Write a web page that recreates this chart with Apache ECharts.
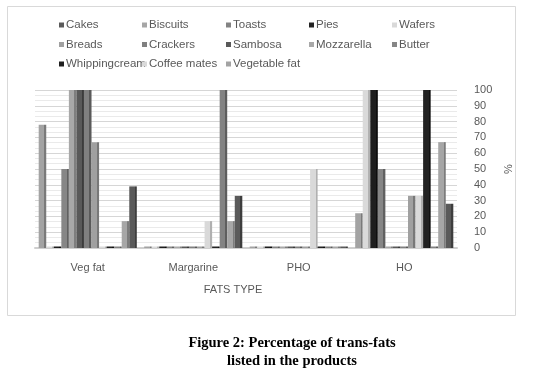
<!DOCTYPE html>
<html>
<head>
<meta charset="utf-8">
<script src="https://cdn.jsdelivr.net/npm/echarts@6/dist/echarts.min.js"></script>
<style>
  html, body { margin: 0; padding: 0; background: #ffffff; }
  #chart { width: 550px; height: 373px; }
</style>
</head>
<body>
<div id="chart"></div>
<script>
const categories = ['Veg fat', 'Margarine', 'PHO', 'HO'];
const yTicks = [0, 10, 20, 30, 40, 50, 60, 70, 80, 90, 100];

const cakes         = [39, 33, 0, 28];
const biscuits      = [17, 17, 0, 67];
const toasts        = [0, 100, 0, 0];
const pies          = [0, 0, 0, 100];
const wafers        = [0, 17, 50, 33];
const breads        = [67, 0, 0, 33];
const crackers      = [100, 0, 0, 0];
const sambosa       = [100, 0, 0, 0];
const mozzarella    = [100, 0, 0, 0];
const butter        = [50, 0, 0, 50];
const whippingcream = [0, 0, 0, 100];
const coffeeMates   = [0, 0, 0, 100];
const vegetableFat  = [78, 0, 0, 22];

const seriesNames = ['Cakes', 'Biscuits', 'Toasts', 'Pies', 'Wafers', 'Breads', 'Crackers',
  'Sambosa', 'Mozzarella', 'Butter', 'Whippingcream', 'Coffee mates', 'Vegetable fat'];
const seriesValues = [cakes, biscuits, toasts, pies, wafers, breads, crackers,
  sambosa, mozzarella, butter, whippingcream, coffeeMates, vegetableFat];

const colors = ['#5a5a5a', '#a6a6a6', '#838383', '#222222', '#d9d9d9', '#a0a0a0', '#808080',
  '#595959', '#a8a8a8', '#868686', '#1e1e1e', '#dadada', '#a3a3a3'];
const sideColors = ['#3e3e3e', '#7c7c7c', '#5e5e5e', '#111111', '#b0b0b0', '#787878', '#5a5a5a',
  '#3c3c3c', '#7e7e7e', '#616161', '#0e0e0e', '#b2b2b2', '#7a7a7a'];

function barColor(i) {
  return new echarts.graphic.LinearGradient(0, 0, 1, 0, [
    { offset: 0, color: colors[i] },
    { offset: 0.72, color: colors[i] },
    { offset: 0.72, color: sideColors[i] },
    { offset: 1, color: sideColors[i] }
  ]);
}

// Excel 3D chart draws the series in reverse order within each category
const series = [];
for (let i = seriesNames.length - 1; i >= 0; i--) {
  series.push({
    name: seriesNames[i],
    type: 'bar',
    data: seriesValues[i],
    barGap: '0%',
    barCategoryGap: '7%',
    barMinHeight: 1.5,
    itemStyle: { color: barColor(i) },
    emphasis: { disabled: true }
  });
}

const legendCols = [
  { left: 54, items: ['Cakes', 'Breads', 'Whippingcream'] },
  { left: 137, items: ['Biscuits', 'Crackers', 'Coffee mates'] },
  { left: 221, items: ['Toasts', 'Sambosa', 'Vegetable fat'] },
  { left: 304, items: ['Pies', 'Mozzarella'] },
  { left: 387, items: ['Wafers', 'Butter'] }
];
const legends = legendCols.map(c => ({
  orient: 'vertical',
  left: c.left,
  top: 13,
  itemWidth: 5,
  itemHeight: 5,
  itemGap: 5.5,
  icon: 'rect',
  selectedMode: false,
  data: c.items.map(n => ({ name: n, itemStyle: { color: colors[seriesNames.indexOf(n)] } })),
  textStyle: { fontFamily: 'Liberation Sans', fontSize: 11.5, color: '#595959', lineHeight: 14, padding: [0, 0, 0, -3] }
}));

const chart = echarts.init(document.getElementById('chart'), null, { renderer: 'canvas' });
chart.setOption({
  animation: false,
  backgroundColor: '#ffffff',
  legend: legends,
  grid: { left: 35, right: 93, top: 90, bottom: 125 },
  xAxis: {
    type: 'category',
    data: categories,
    name: 'FATS TYPE',
    nameLocation: 'middle',
    nameGap: 36,
    nameTextStyle: { fontFamily: 'Liberation Sans', fontSize: 11, color: '#595959', padding: [0, 26, 0, 0] },
    axisLine: { lineStyle: { color: '#cfcfcf', width: 2 } },
    axisTick: { show: false },
    axisLabel: { margin: 14, fontFamily: 'Liberation Sans', fontSize: 11, color: '#595959' }
  },
  yAxis: {
    type: 'value',
    position: 'right',
    min: yTicks[0],
    max: yTicks[yTicks.length - 1],
    interval: 10,
    name: '%',
    nameLocation: 'middle',
    nameRotate: 90,
    nameGap: 46,
    nameTextStyle: { fontFamily: 'Liberation Sans', fontSize: 11, color: '#595959' },
    axisLine: { show: false },
    axisTick: { show: false },
    axisLabel: { margin: 17, fontFamily: 'Liberation Sans', fontSize: 11, color: '#595959' },
    splitLine: { lineStyle: { color: '#d6d6d6', width: 1 } },
    minorTick: { show: false, splitNumber: 3 },
    minorSplitLine: { show: true, lineStyle: { color: '#eaeaea', width: 1 } }
  },
  series: series,
  graphic: [
    {
      type: 'rect',
      shape: { x: 7.5, y: 6.5, width: 508, height: 309 },
      style: { fill: 'none', stroke: '#d9d9d9', lineWidth: 1 },
      silent: true,
      z: -1
    },
    {
      type: 'text',
      x: 292, y: 334,
      style: {
        text: 'Figure 2: Percentage of trans-fats\nlisted in the products',
        align: 'center',
        fontFamily: 'Liberation Serif',
        fontWeight: 'bold',
        fontSize: 14.5,
        lineHeight: 18,
        fill: '#000000'
      }
    }
  ]
});
</script>
</body>
</html>
